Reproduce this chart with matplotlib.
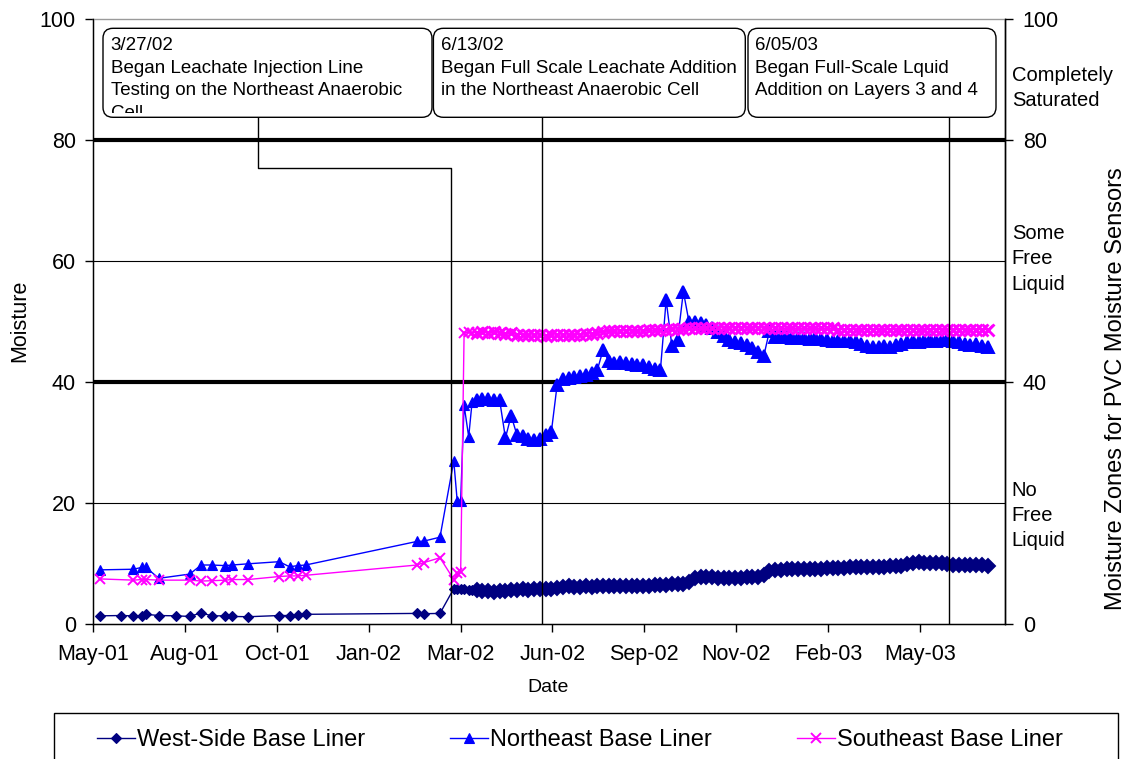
import numpy as np
import pandas as pd
import matplotlib
matplotlib.use('Agg')
import matplotlib.pyplot as plt
import matplotlib.dates as mdates
from matplotlib.patches import FancyBboxPatch, Rectangle
from matplotlib.transforms import Bbox, TransformedBbox, IdentityTransform

plt.rcParams['font.family'] = ['Liberation Sans', 'DejaVu Sans']

# ---- early (manual) readings, shared dates ----
early_dates = ['2001-05-20', '2001-06-07', '2001-06-18', '2001-06-25', '2001-06-29', '2001-07-10',
               '2001-07-25', '2001-08-06', '2001-08-16', '2001-08-25', '2001-09-06', '2001-09-12',
               '2001-09-26', '2001-10-23', '2001-11-01', '2001-11-08', '2001-11-15', '2002-02-20',
               '2002-02-26', '2002-03-12', '2002-03-24', '2002-03-27', '2002-03-30', '2002-04-02',
               '2002-04-06', '2002-04-09']
west_early = [1.4, 1.45, 1.4, 1.4, 1.65, 1.45, 1.4, 1.3, 1.9, 1.4, 1.4, 1.3, 1.25, 1.45, 1.45, 1.5,
              1.65, 1.8, 1.75, 1.8, 5.9, 5.9, 5.8, 5.8, 5.7, 5.7]
ne_early = [9.0, None, 9.1, 9.4, 9.4, 7.6, None, 8.3, 9.8, 9.8, 9.7, 9.8, 10.0, 10.35, 9.5, 9.7,
            9.8, 13.7, 13.75, 14.4, 27.0, 20.4, 20.4, 36.2, 31.0, 36.8]
se_early = [7.5, None, 7.3, 7.4, 7.4, 7.3, None, 7.3, 7.15, 7.2, 7.3, 7.4, 7.4, 7.9, 8.0, 8.0,
            8.1, 9.8, 10.2, 11.0, 7.4, 8.4, 8.6, 48.2, 48.3, 48.2]

# ---- automated readings, every 5 days from 2002-04-13 ----
dense_start = '2002-04-13'
west_dense = [5.6, 5.5, 5.5, 5.4, 5.5, 5.5, 5.7, 5.6, 5.9, 5.7,
              5.8, 5.8, 5.8, 5.9, 6.0, 6.2, 6.3, 6.2, 6.2, 6.3,
              6.2, 6.3, 6.3, 6.3, 6.3, 6.4, 6.4, 6.4, 6.4, 6.4,
              6.4, 6.5, 6.5, 6.5, 6.6, 6.6, 6.7, 7.0, 7.7, 7.8,
              7.8, 7.8, 7.7, 7.7, 7.7, 7.7, 7.7, 7.8, 7.8, 7.8,
              8.2, 8.8, 9.0, 9.0, 9.1, 9.1, 9.1, 9.2, 9.2, 9.2,
              9.2, 9.3, 9.3, 9.3, 9.3, 9.4, 9.4, 9.4, 9.4, 9.5,
              9.5, 9.5, 9.6, 9.6, 9.6, 9.9, 10.2, 10.3, 10.2, 10.2,
              10.1, 10.1, 10.0, 9.8, 9.8, 9.8, 9.8, 9.8, 9.8, 9.7]
ne_dense = [37.0, 37.3, 37.3, 37.1, 37.0, 30.8, 34.5, 31.3, 31.2, 30.7,
            30.5, 30.6, 31.3, 31.8, 39.5, 40.6, 40.7, 40.8, 41.0, 41.2,
            41.5, 42.0, 45.3, 43.5, 43.2, 43.3, 43.2, 43.0, 42.9, 42.8,
            42.5, 42.2, 42.0, 53.6, 46.0, 47.0, 55.0, 49.9, 49.9, 49.8,
            49.5, 49.0, 48.3, 47.6, 47.0, 46.7, 46.5, 46.2, 45.6, 45.0,
            44.3, 48.5, 47.5, 47.5, 47.5, 47.4, 47.3, 47.3, 47.2, 47.3,
            47.1, 47.0, 46.9, 46.9, 46.8, 46.8, 46.6, 46.3, 46.0, 45.9,
            45.9, 46.0, 45.9, 46.1, 46.4, 46.6, 46.8, 46.7, 46.9, 47.0,
            46.8, 47.0, 47.0, 46.8, 46.7, 46.4, 46.2, 46.3, 46.0, 45.9]
se_dense = [48.2, 48.3, 48.2, 48.3, 48.1, 48.0, 48.1, 47.9, 47.9, 47.8,
            47.8, 47.8, 47.7, 47.8, 47.8, 47.8, 47.8, 47.8, 47.9, 48.0,
            48.0, 48.2, 48.3, 48.4, 48.4, 48.5, 48.5, 48.5, 48.4, 48.5,
            48.6, 48.6, 48.7, 48.7, 48.8, 48.8, 48.8, 48.9, 48.9, 48.9,
            48.9, 49.0, 49.0, 49.0, 49.0, 49.0, 49.0, 49.0, 49.0, 49.0,
            49.0, 49.0, 49.0, 48.9, 48.9, 48.9, 48.9, 48.9, 48.9, 48.9,
            48.9, 48.9, 48.9, 48.7, 48.7, 48.7, 48.7, 48.7, 48.7, 48.7,
            48.7, 48.7, 48.7, 48.7, 48.7, 48.7, 48.7, 48.7, 48.7, 48.7,
            48.7, 48.7, 48.7, 48.7, 48.7, 48.7, 48.7, 48.7, 48.7, 48.7]

series_names = ['West-Side Base Liner', 'Northeast Base Liner', 'Southeast Base Liner']
series_colors = ['#000080', '#0000FF', '#FF00FF']
series_markers = ['D', '^', 'x']

# axis setup (Excel style date axis: start + 80 day steps)
axis_start = pd.Timestamp('2001-05-14')
axis_step_days = 80
axis_span_days = 794
tick_labels = ['May-01', 'Aug-01', 'Oct-01', 'Jan-02', 'Mar-02', 'Jun-02',
               'Sep-02', 'Nov-02', 'Feb-03', 'May-03']

# callouts
event_text = ['3/27/02\nBegan Leachate Injection Line\nTesting on the Northeast Anaerobic\nCell',
              '6/13/02\nBegan Full Scale Leachate Addition\nin the Northeast Anaerobic Cell',
              '6/05/03\nBegan Full-Scale Lquid\nAddition on Layers 3 and 4']
event_line_dates = ['2002-03-22', '2002-06-09', '2003-05-29']

zone_labels = ['Completely\nSaturated', 'Some\nFree\nLiquid', 'No\nFree\nLiquid']
zone_label_y = [88.6, 60.4, 18.0]

# ---- build series ----
dense_dates = pd.date_range(dense_start, periods=len(west_dense), freq='5D')
all_dates = pd.to_datetime(early_dates).append(dense_dates)

W, H = 1127, 759
fig = plt.figure(figsize=(W / 100, H / 100), dpi=100)
L, R, T, B = 93.3, 1004.8, 19.3, 624.3
ax = fig.add_axes([L / W, 1 - B / H, (R - L) / W, (B - T) / H])

style = {'D': (5.6, 0.8, 6.8), '^': (6.5, 0.8, 8.5), 'x': (7.0, 1.4, 9.0)}
handles = []
for name, col, mk, early, dense in zip(series_names, series_colors, series_markers,
                                       [west_early, ne_early, se_early],
                                       [west_dense, ne_dense, se_dense]):
    s = pd.Series(list(early) + list(dense), index=all_dates, dtype=float).dropna()
    ms, mew, ms_dense = style[mk]
    h, = ax.plot(s.index, s.values, marker=mk, color=col, lw=1.0, ms=ms, mec=col, mfc=col,
                 mew=mew)
    # daily logger readings sit so close together that the markers merge into a band
    ax.plot(dense_dates, dense, ls='none', marker=mk, color=col, ms=ms_dense, mec=col,
            mfc=col, mew=mew + 0.6)
    handles.append(h)

x0 = mdates.date2num(axis_start)
ax.set_xlim(x0, x0 + axis_span_days)
ax.set_ylim(0, 100)
ax.set_xticks([x0 + axis_step_days * k for k in range(len(tick_labels))])
ax.set_xticklabels(tick_labels)
ax.set_yticks(np.arange(0, 101, 20))
ax.tick_params(axis='both', direction='out', length=6, width=1, labelsize=15.5, color='black')
ax.tick_params(axis='x', pad=8)
ax.tick_params(axis='y', pad=6.5)
for yv in [20, 60]:
    ax.axhline(yv, color='black', lw=0.8, zorder=0)
for yv in [40, 80]:
    ax.axhline(yv, color='black', lw=3.0, zorder=1)
for sp in ['left', 'bottom', 'right']:
    ax.spines[sp].set_linewidth(1.0)
ax.spines['top'].set_color('#9a9a9a')
ax.spines['top'].set_linewidth(1.0)

ax2 = ax.twinx()
ax2.set_ylim(0, 100)
ax2.set_yticks([0, 40, 80, 100])
ax2.tick_params(axis='y', direction='out', length=6, width=1, labelsize=15.5, pad=7)
ax2.spines['right'].set_linewidth(1.0)
ax2.spines['top'].set_visible(False)

for lbl, yv in zip(zone_labels, zone_label_y):
    ax.text(1 + 7 / (R - L), yv, lbl, transform=ax.get_yaxis_transform(), ha='left',
            va='center', fontsize=14.5, linespacing=1.41)

# event lines and callout boxes
box_bottom_val = (B - 117.3) / ((B - T) / 100)
elbow_val = (B - 168.3) / ((B - T) / 100)
ev = [mdates.date2num(pd.Timestamp(d)) for d in event_line_dates]
elbow_x = x0 + (258 - L) / (R - L) * axis_span_days
ax.plot([elbow_x, elbow_x, ev[0], ev[0]], [box_bottom_val, elbow_val, elbow_val, 0],
        color='black', lw=1.0, zorder=2)
ax.plot([ev[1], ev[1]], [box_bottom_val, 0], color='black', lw=1.0, zorder=2)
ax.plot([ev[2], ev[2]], [box_bottom_val, 0], color='black', lw=1.0, zorder=2)

box_px = [(103, 432), (433.4, 745.3), (748, 996)]
text_px = [110.7, 441, 754.9]
bt, bb = 28.3, 117.3
for (bl, br), tx, txt in zip(box_px, text_px, event_text):
    p = FancyBboxPatch((bl / 100, (H - bb) / 100), (br - bl) / 100, (bb - bt) / 100,
                       boxstyle='round,pad=0,rounding_size=0.1', transform=fig.dpi_scale_trans,
                       facecolor='white', edgecolor='black', lw=1.0, zorder=5)
    fig.patches.append(p)
    t = fig.text(tx / W, 1 - 37.0 / H, txt, ha='left', va='top', fontsize=13.5,
                 linespacing=1.43, zorder=6)
    t.set_clip_box(TransformedBbox(Bbox([[bl, H - bb + 4], [br, H - bt]]), IdentityTransform()))
    t.set_clip_on(True)

fig.text(20 / W, 1 - 321 / H, 'Moisture', rotation=90, ha='center', va='center', fontsize=15.5)
fig.text(1116 / W, 1 - 389 / H, 'Moisture Zones for PVC Moisture Sensors', rotation=90,
         ha='center', va='center', fontsize=17)
fig.text(548 / W, 1 - 688 / H, 'Date', ha='center', va='center', fontsize=14)

# legend frame runs past the bottom edge of the picture
fig.patches.append(Rectangle((54 / W, 1 - 767 / H), (1118 - 54) / W, 54 / H,
                             transform=fig.transFigure, facecolor='white', edgecolor='black',
                             lw=1.0))
leg = fig.legend(handles, series_names, loc='center left', bbox_to_anchor=(97 / W, 1 - 740 / H),
                 ncol=3, fontsize=17, frameon=False, handlelength=1.6, handletextpad=0.1,
                 columnspacing=3.6, borderpad=0, borderaxespad=0)

fig.savefig('out.png', dpi=100)
